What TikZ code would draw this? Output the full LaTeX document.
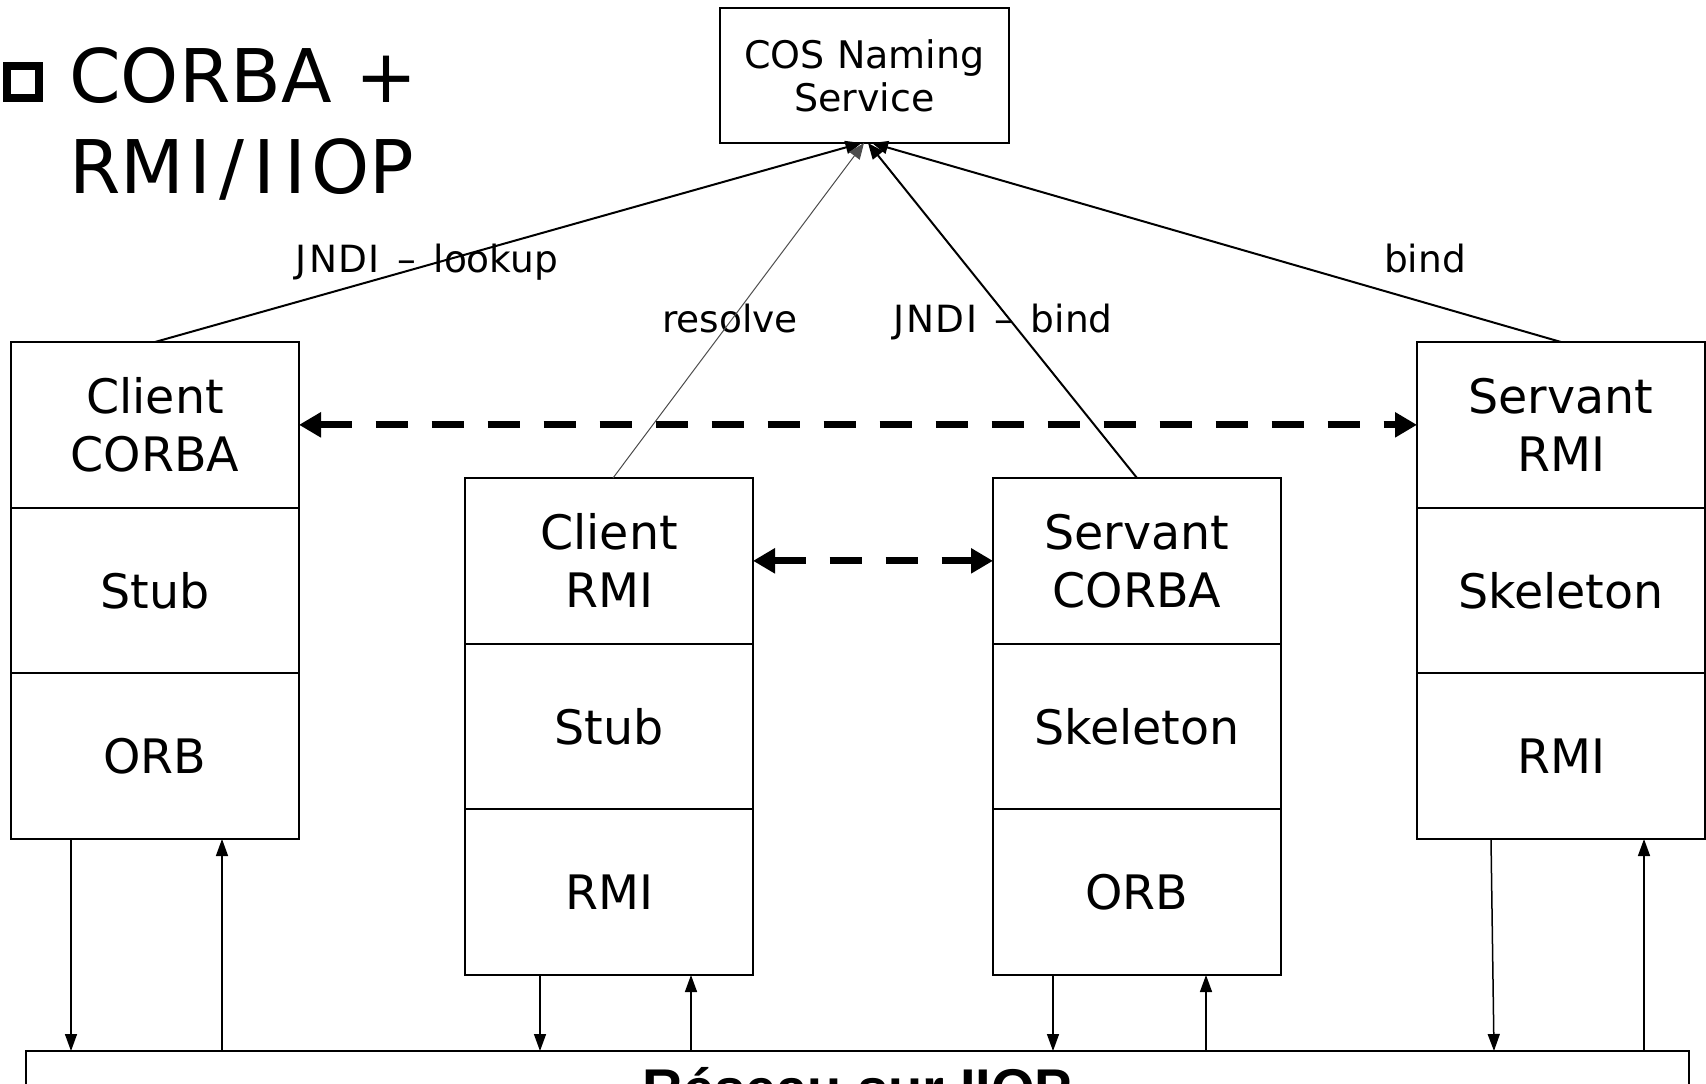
\documentclass[tikz,border=0pt]{standalone}
\usepackage{fontspec}
\usetikzlibrary{arrows.meta}
\newfontfamily\dvfont{DejaVu Sans}
\newfontfamily\libfont{Liberation Sans}
\begin{document}
\begin{tikzpicture}[x=1pt,y=-1pt,
  sec/.style={draw, line width=2pt, outer sep=0pt, minimum width=288pt, minimum height=165.67pt, inner sep=0pt, align=center, font=\dvfont\fontsize{47.5}{58}\selectfont},
  lbl/.style={anchor=base, inner sep=0pt, font=\dvfont\fontsize{37.5}{44}\selectfont},
  nsarr/.style={line width=2pt, -{Triangle[length=16pt,width=13pt]}},
  bigdash/.style={line width=7pt, dash pattern=on 32pt off 24pt, {Triangle[length=22pt,width=24pt]}-{Triangle[length=22pt,width=24pt]}},
  vline/.style={line width=1.5pt, -{Triangle[length=17pt,width=12pt]}}
]
\useasboundingbox (0,0) rectangle (1706,1084);
% title
\node[draw, line width=8pt, minimum size=32pt, inner sep=0pt] (bul) at (23,82) {};
\node[anchor=base west, inner sep=0pt, font=\dvfont\fontsize{74}{91}\selectfont] (t1) at (69,102) {CORBA +};
\node[anchor=base west, inner sep=0pt, font=\dvfont\fontsize{74}{91}\selectfont] (t2) at (69,193) {RM\kern4.6pt I\kern9pt/\kern9pt I\kern9pt I\kern4.6pt OP};
% naming service
\node[draw, line width=2pt, outer sep=0pt, minimum width=289pt, minimum height=135pt, align=center, inner sep=0pt, font=\dvfont\fontsize{38}{43}\selectfont] (cos) at (864.5,75.5) {COS Naming\\Service};
% columns
\node[sec, anchor=north] (cc1) at (155,342) {Client\\CORBA};
\node[sec, anchor=north] (cc2) at (cc1.south) {Stub};
\node[sec, anchor=north] (cc3) at (cc2.south) {ORB};
\node[sec, anchor=north] (cr1) at (609,478) {Client\\RMI};
\node[sec, anchor=north] (cr2) at (cr1.south) {Stub};
\node[sec, anchor=north] (cr3) at (cr2.south) {RMI};
\node[sec, anchor=north] (sc1) at (1137,478) {Servant\\CORBA};
\node[sec, anchor=north] (sc2) at (sc1.south) {Skeleton};
\node[sec, anchor=north] (sc3) at (sc2.south) {ORB};
\node[sec, anchor=north] (sr1) at (1561,342) {Servant\\RMI};
\node[sec, anchor=north] (sr2) at (sr1.south) {Skeleton};
\node[sec, anchor=north] (sr3) at (sr2.south) {RMI};
% network
\node[draw, line width=2.5pt, outer sep=0pt, minimum width=1663pt, minimum height=74pt, text height=40pt, text depth=0pt, inner sep=0pt, font=\libfont\bfseries\fontsize{56}{60}\selectfont] (net) at (857.5,1088) {Réseau sur IIOP};
% labels
\node[lbl] (l1) at (427,272) {J\kern2pt N\kern1pt D\kern2pt I\kern5.5pt\ –\kern5.5pt\ lookup};
\node[lbl] (l2) at (730,332) {resolve};
\node[lbl] (l3) at (1003,332) {J\kern2pt N\kern1pt D\kern2pt I\kern5.5pt\ –\kern5.5pt\ bind};
\node[lbl] (l4) at (1425,272) {bind};
% naming connectors
\draw[nsarr] (cc1.north) -- ([xshift=-3pt]cos.south);
\draw[line width=1pt, draw=black!70, -{Triangle[length=16pt,width=13pt]}] ([xshift=4pt]cr1.north) -- ([xshift=-0.5pt]cos.south);
\draw[nsarr] (sc1.north) -- ([xshift=3.5pt]cos.south);
\draw[nsarr] (sr1.north) -- ([xshift=7.5pt]cos.south);
% dashed
\draw[bigdash] (cc1.east) -- (sr1.west);
\draw[bigdash] (cr1.east) -- (sc1.west);
% vertical arrows
\draw[vline] ([xshift=-84pt]cc3.south) -- ([xshift=-786.5pt]net.north);
\draw[vline] ([xshift=-635.5pt]net.north) -- ([xshift=67pt]cc3.south);
\draw[vline] ([xshift=-69pt]cr3.south) -- ([xshift=-317.5pt]net.north);
\draw[vline] ([xshift=-166.5pt]net.north) -- ([xshift=82pt]cr3.south);
\draw[vline] ([xshift=-84pt]sc3.south) -- ([xshift=195.5pt]net.north);
\draw[vline] ([xshift=348.5pt]net.north) -- ([xshift=69pt]sc3.south);
\draw[vline] ([xshift=-70pt]sr3.south) -- ([xshift=636.5pt]net.north);
\draw[vline] ([xshift=786.5pt]net.north) -- ([xshift=83pt]sr3.south);
\end{tikzpicture}
\end{document}
